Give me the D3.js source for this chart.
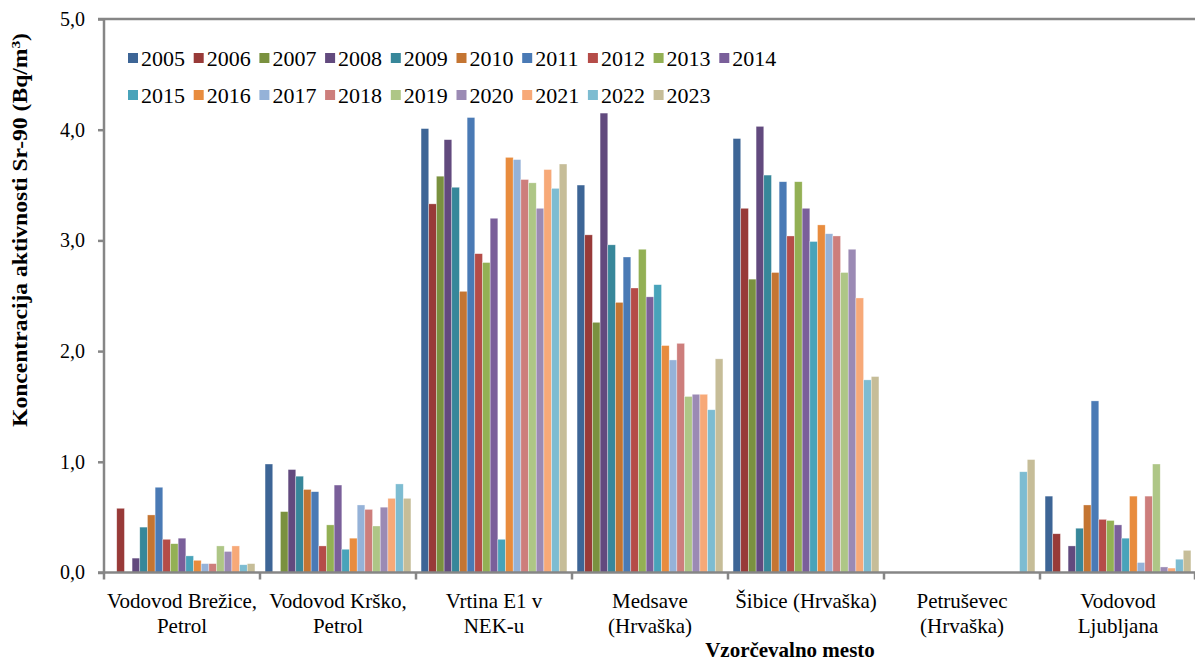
<!DOCTYPE html>
<html>
<head>
<meta charset="utf-8">
<script src="https://cdn.jsdelivr.net/npm/d3@7"></script>
<style>
  body { margin: 0; background: #fff; }
  text { font-family: "Liberation Serif", "Times New Roman", serif; fill: #000; }
  .axis-line { stroke: #868686; stroke-width: 2.5; fill: none; }
</style>
</head>
<body>
<div class="chart"></div>
<script>
const years = ['2005','2006','2007','2008','2009','2010','2011','2012','2013','2014',
  '2015','2016','2017','2018','2019','2020','2021','2022','2023']

const sites = [
  ['Vodovod Brežice,', 'Petrol'],
  ['Vodovod Krško,', 'Petrol'],
  ['Vrtina E1 v', 'NEK-u'],
  ['Medsave', '(Hrvaška)'],
  ['Šibice (Hrvaška)'],
  ['Petruševec', '(Hrvaška)'],
  ['Vodovod', 'Ljubljana']
]

// one value per year, 2005..2023 (null = no bar)
const brezice   = [null, 0.58, null, 0.13, 0.41, 0.52, 0.77, 0.30, 0.26, 0.31, 0.15, 0.11, 0.08, 0.08, 0.24, 0.19, 0.24, 0.07, 0.08]
const krsko     = [0.98, null, 0.55, 0.93, 0.87, 0.75, 0.73, 0.24, 0.43, 0.79, 0.21, 0.31, 0.61, 0.57, 0.42, 0.59, 0.67, 0.80, 0.67]
const vrtina    = [4.01, 3.33, 3.58, 3.91, 3.48, 2.54, 4.11, 2.88, 2.80, 3.20, 0.30, 3.75, 3.73, 3.55, 3.52, 3.29, 3.64, 3.47, 3.69]
const medsave   = [3.50, 3.05, 2.26, 4.15, 2.96, 2.44, 2.85, 2.57, 2.92, 2.49, 2.60, 2.05, 1.92, 2.07, 1.59, 1.61, 1.61, 1.47, 1.93]
const sibice    = [3.92, 3.29, 2.65, 4.03, 3.59, 2.71, 3.53, 3.04, 3.53, 3.29, 2.99, 3.14, 3.06, 3.04, 2.71, 2.92, 2.48, 1.74, 1.77]
const petrusevec = [null, null, null, null, null, null, null, null, null, null, null, null, null, null, null, null, null, 0.91, 1.02]
const ljubljana = [0.69, 0.35, null, 0.24, 0.40, 0.61, 1.55, 0.48, 0.47, 0.43, 0.31, 0.69, 0.09, 0.69, 0.98, 0.05, 0.04, 0.12, 0.20]

const siteValues = [brezice, krsko, vrtina, medsave, sibice, petrusevec, ljubljana]

const colors = ['#3d6596','#983a38','#7a913f','#624a7e','#37879a','#c47532','#4a7ab5','#b54c48',
  '#93b054','#7a5f9a','#48a3ba','#e88c3e','#95b2d8','#cd7e7c','#aec686','#9b8ab4',
  '#f7a978','#7dbcd1','#c6bd98']

const yTicks = [0, 1, 2, 3, 4, 5]

const serif = '"Liberation Serif", "Times New Roman", serif'

const width = 1195, height = 661
const margin = {top: 19, right: 0, bottom: 88, left: 104}

let svg = d3.select('.chart').append('svg')
  .attr('width', width)
  .attr('height', height)

let x0 = d3.scaleBand()
  .domain(d3.range(sites.length))
  .range([margin.left, width - margin.right + 1])
  .padding(0)

let x1 = d3.scaleBand()
  .domain(years)
  .range([0, x0.bandwidth()])
  .paddingInner(0)
  .paddingOuter(0.66)

let y = d3.scaleLinear()
  .domain([0, 5])
  .range([height - margin.bottom - 0.5, margin.top])

let color = d3.scaleOrdinal().domain(years).range(colors)

let fmt = d => d3.format('.1f')(d).replace('.', ',')

// bars
let groups = svg.append('g').selectAll('g')
  .data(siteValues)
  .enter()
  .append('g')
  .attr('transform', (d, i) => 'translate(' + x0(i) + ',0)')

groups.selectAll('rect')
  .data(d => d.map((v, i) => ({year: years[i], value: v})).filter(e => e.value != null))
  .enter()
  .append('rect')
  .attr('x', d => x1(d.year))
  .attr('width', x1.bandwidth())
  .attr('y', d => y(d.value))
  .attr('height', d => y(0) - y(d.value))
  .attr('fill', d => color(d.year))
  .attr('stroke', 'rgba(255,255,255,0.55)')
  .attr('stroke-width', 0.6)

// y axis
let yAxis = d3.axisLeft(y).tickValues(yTicks).tickSize(6).tickFormat(fmt)
let yg = svg.append('g')
  .attr('transform', 'translate(' + margin.left + ',0)')
  .call(yAxis)
  .attr('font-family', serif)
yg.select('.domain').remove()
yg.selectAll('line').attr('stroke', '#868686').attr('stroke-width', 2.5)
yg.selectAll('text').attr('font-size', 20).attr('x', -19)

svg.append('line').attr('class', 'axis-line')
  .attr('x1', margin.left).attr('x2', margin.left)
  .attr('y1', y(5)).attr('y2', y(0))
svg.append('line').attr('class', 'axis-line')
  .attr('x1', margin.left - 6).attr('x2', width)
  .attr('y1', y(5)).attr('y2', y(5))

// x axis
svg.append('line').attr('class', 'axis-line')
  .attr('x1', margin.left - 6).attr('x2', width)
  .attr('y1', y(0)).attr('y2', y(0))

svg.append('g').selectAll('line')
  .data(d3.range(sites.length + 1))
  .enter()
  .append('line')
  .attr('x1', i => i < sites.length ? x0(i) : x0(i - 1) + x0.bandwidth() - 1)
  .attr('x2', i => i < sites.length ? x0(i) : x0(i - 1) + x0.bandwidth() - 1)
  .attr('y1', y(0))
  .attr('y2', y(0) + 7)
  .attr('stroke', '#868686')
  .attr('stroke-width', 2.5)

let labels = svg.append('g').selectAll('text')
  .data(sites)
  .enter()
  .append('text')
  .attr('text-anchor', 'middle')
  .attr('font-family', serif)
  .attr('font-size', 21)
  .attr('y', 608)
  .attr('transform', (d, i) => 'translate(' + (x0(i) + x0.bandwidth() / 2) + ',0)')

labels.selectAll('tspan')
  .data(d => d)
  .enter()
  .append('tspan')
  .attr('x', 0)
  .attr('dy', (d, i) => i === 0 ? 0 : 25)
  .text(d => d)

// axis titles
let yTitle = svg.append('text')
  .attr('text-anchor', 'middle')
  .attr('font-family', serif)
  .attr('font-size', 20)
  .attr('font-weight', 'bold')
  .attr('transform', 'translate(27,230) rotate(-90) scale(1.18,1)')
yTitle.append('tspan').text('Koncentracija aktivnosti Sr-90 (Bq/m')
yTitle.append('tspan').attr('font-size', 13).attr('dy', -7).text('3')
yTitle.append('tspan').attr('dy', 7).text(')')

svg.append('text')
  .attr('text-anchor', 'middle')
  .attr('font-family', serif)
  .attr('font-size', 21)
  .attr('font-weight', 'bold')
  .attr('x', 790)
  .attr('y', 657)
  .text('Vzorčevalno mesto')

// legend
let legend = svg.append('g').selectAll('g')
  .data(years)
  .enter()
  .append('g')
  .attr('transform', (d, i) => 'translate(' + (128 + (i % 10) * 65.7) + ',' + (i < 10 ? 58 : 95) + ')')

legend.append('rect')
  .attr('x', 0)
  .attr('y', -5)
  .attr('width', 10)
  .attr('height', 10)
  .attr('fill', d => color(d))

legend.append('text')
  .attr('x', 13)
  .attr('y', 8)
  .attr('font-family', serif)
  .attr('font-size', 22)
  .text(d => d)
</script>
</body>
</html>
